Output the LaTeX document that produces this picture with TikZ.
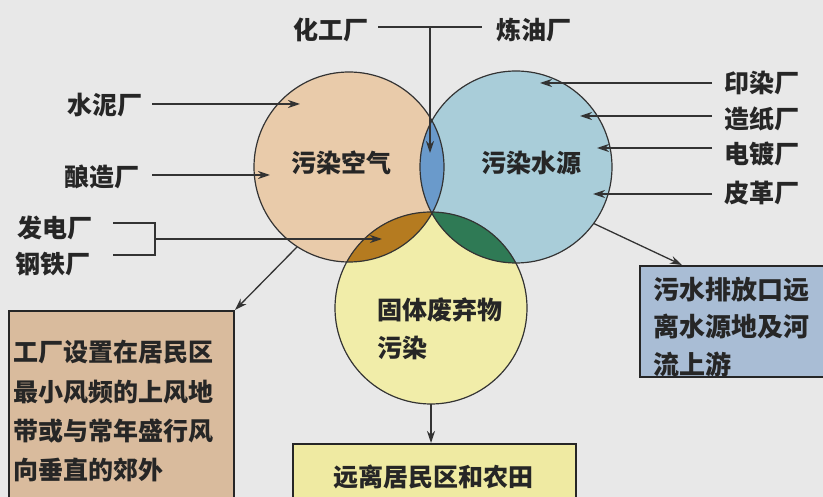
\documentclass[tikz,border=0pt]{standalone}
\usepackage{fontspec}
\newfontfamily\cjk{Noto Sans CJK SC}
\usetikzlibrary{arrows.meta}
\definecolor{bgc}{HTML}{E8E8E8}
\definecolor{airc}{HTML}{E9CBAA}
\definecolor{waterc}{HTML}{A9CDD9}
\definecolor{solidc}{HTML}{F1EDA9}
\definecolor{lensAW}{HTML}{6A9ACB}
\definecolor{lensAS}{HTML}{B57B20}
\definecolor{lensWS}{HTML}{2F7A55}
\definecolor{boxL}{HTML}{D9BB9D}
\definecolor{boxR}{HTML}{A9BDD5}
\definecolor{boxB}{HTML}{EFEAA2}
\begin{document}
\begin{tikzpicture}[x=1pt,y=-1pt,
  font=\cjk\bfseries\fontsize{25}{30}\selectfont,
  lbl/.style={inner sep=0pt, text=black!85},
  ln/.style={draw=black!80, line width=1.3pt},
  arr/.style={ln, -{Stealth[length=12pt,width=8pt]}},
  circ/.style={draw=black!80, line width=1.2pt},
  boxst/.style={draw=black!85, line width=2pt, inner sep=0pt, anchor=north west}]
\useasboundingbox (0,0) rectangle (823,497);
\clip (0,0) rectangle (823,497);
\fill[bgc] (0,0) rectangle (823,497);

% circles
\node[circle, minimum size=190pt, inner sep=0pt, fill=airc] (air) at (349,167) {};
\node[circle, minimum size=192pt, inner sep=0pt, fill=waterc] (water) at (516,167) {};
\node[circle, minimum size=192pt, inner sep=0pt, fill=solidc] (solid) at (431,308) {};
\begin{scope}
  \clip (air.center) circle[radius=95pt];
  \fill[lensAW] (water.center) circle[radius=96pt];
  \fill[lensAS] (solid.center) circle[radius=96pt];
\end{scope}
\begin{scope}
  \clip (water.center) circle[radius=96pt];
  \fill[lensWS] (solid.center) circle[radius=96pt];
\end{scope}
\draw[circ] (air.center) circle[radius=95pt];
\draw[circ] (water.center) circle[radius=96pt];
\draw[circ] (solid.center) circle[radius=96pt];

\node[lbl] (airt) at (341,163) {污染空气};
\node[lbl] (watert) at (531,163) {污染水源};
\node[lbl, anchor=west] (solidt1) at (377,310) {固体废弃物};
\node[lbl, anchor=west] (solidt2) at (377,348) {污染};

% top
\node[lbl] (hg) at (331,30) {化工厂};
\node[lbl] (ly) at (534,30) {炼油厂};
\coordinate (hgE) at (378,27);
\coordinate (lyW) at (482,27);
\coordinate (topJ) at (430,27);
\coordinate (topTip) at (430,153);
\draw[ln] (hgE) -- (lyW);
\draw[arr] (topJ) -- (topTip);

% left
\node[lbl] (sn) at (105,105) {水泥厂};
\node[lbl] (nz) at (102,177) {酿造厂};
\node[lbl] (fd) at (55,228) {发电厂};
\node[lbl] (gt) at (53,264) {钢铁厂};
\coordinate (snTip) at (300,104);
\coordinate (nzTip) at (270,175);
\draw[arr] (152,104) -- (snTip);
\draw[arr] (152,175) -- (nzTip);
\coordinate (brA) at (113,223);
\coordinate (brB) at (155,223);
\coordinate (brC) at (155,255);
\coordinate (brD) at (113,255);
\coordinate (brM) at (155,239);
\coordinate (fdTip) at (382,239);
\draw[ln] (brA) -- (brB) -- (brC) -- (brD);
\draw[arr] (brM) -- (fdTip);

% right
\node[lbl] (yr) at (762,83) {印染厂};
\node[lbl] (zz) at (762,119) {造纸厂};
\node[lbl] (dd) at (762,154) {电镀厂};
\node[lbl] (pg) at (762,193) {皮革厂};
\draw[arr] (712,83) -- (540,83);
\draw[arr] (712,116) -- (580,116);
\draw[arr] (712,148) -- (597,148);
\draw[arr] (712,194) -- (593,194);

% boxes
\node[boxst, fill=boxL, minimum width=225pt, minimum height=210pt] (lbox) at (8,310) {};
\node[lbl, anchor=west] (l1) at (13,352) {工厂设置在居民区};
\node[lbl, anchor=west] (l2) at (13,392) {最小风频的上风地};
\node[lbl, anchor=west] (l3) at (13,431) {带或与常年盛行风};
\node[lbl, anchor=west] (l4) at (13,470) {向垂直的郊外};

\node[boxst, fill=boxB, minimum width=283pt, minimum height=90pt] (bbox) at (292,443) {};
\node[lbl] (b1) at (433,477) {远离居民区和农田};

\node[boxst, fill=boxR, minimum width=210pt, minimum height=111pt] (rbox) at (639,265) {};
\node[lbl, anchor=west, font=\cjk\bfseries\fontsize{26}{30}\selectfont] (r1) at (653,290) {污水排放口远};
\node[lbl, anchor=west, font=\cjk\bfseries\fontsize{26}{30}\selectfont] (r2) at (653,327) {离水源地及河};
\node[lbl, anchor=west, font=\cjk\bfseries\fontsize{26}{30}\selectfont] (r3) at (653,364) {流上游};

% arrows to boxes
\draw[arr] (air.237) -- (lbox.north east);
\coordinate (rTip) at (682,265);
\draw[arr] (water.324) -- (rTip);
\draw[arr] (solid.south) -- (solid.south |- bbox.north);
\end{tikzpicture}
\end{document}
